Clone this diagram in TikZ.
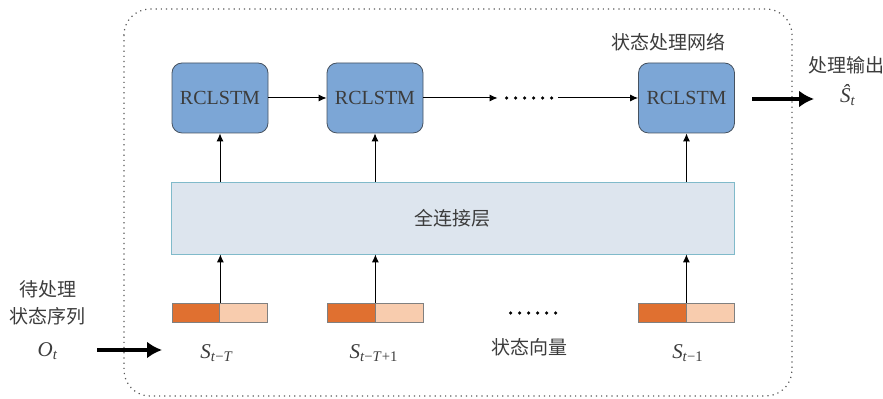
\documentclass[tikz,border=0pt]{standalone}
\usepackage{fontspec}
\setmainfont{Liberation Serif}
\newfontfamily\cjk{Noto Sans CJK SC}
\usetikzlibrary{arrows.meta}
\definecolor{cellblue}{RGB}{124,166,214}
\definecolor{cellline}{RGB}{70,82,96}
\definecolor{fcfill}{RGB}{221,229,238}
\definecolor{fcline}{RGB}{128,186,202}
\definecolor{darkpart}{RGB}{224,112,48}
\definecolor{lightpart}{RGB}{248,204,174}
\definecolor{txt}{RGB}{60,60,60}

\begin{document}
\begin{tikzpicture}[x=0.5pt,y=-0.5pt,
		cell/.style={draw=cellline, fill=cellblue, rounded corners=5pt, minimum width=48pt, minimum height=35pt, inner sep=0pt, font=\fontsize{10}{12}\selectfont, text=txt},
		fclayer/.style={draw=fcline, fill=fcfill, minimum width=281.5pt, minimum height=36pt, inner sep=0pt},
		dark/.style={draw=gray, fill=darkpart, minimum width=24pt, minimum height=9.5pt, inner sep=0pt},
		light/.style={draw=gray, fill=lightpart, minimum width=24pt, minimum height=9.5pt, inner sep=0pt},
		dotrow/.style={minimum width=30pt, minimum height=2pt, inner sep=0pt},
		zh/.style={font=\cjk\fontsize{9.5}{11.5}\selectfont, text=txt, inner sep=0pt},
		sym/.style={font=\fontsize{10.5}{12}\selectfont, text=txt, inner sep=0pt},
		thin/.style={-{Latex[length=4pt,width=3.5pt]}, line width=0.5pt},
		thick/.style={-{Latex[length=7.5pt,width=8.5pt]}, line width=2pt}]
	\useasboundingbox (0,0) rectangle (883,399);
	% outer frame
	\draw [dotted, gray!70!black, line width=0.6pt, rounded corners=13pt] (124,9) rectangle (792,396);
	% RCLSTM cells
	\node[cell] (cell1) at (220,98) {RCLSTM};
	\node[cell] (cell2) at (375,98) {RCLSTM};
	\node[cell] (cell3) at (686.5,98) {RCLSTM};
	\node[dotrow] (hdots) at (528,98) {};
	% fully connected layer
	\node[fclayer] (fc) at (452.5,218) {};
	\node[zh] (fctext) at (fc) {全连接层};
	% state vectors
	\node[dark] (b1a) at (196,312.5) {};
	\node[light] (b1b) at (243.5,312.5) {};
	\node[dark] (b2a) at (351,312.5) {};
	\node[light] (b2b) at (399,312.5) {};
	\node[dark] (b3a) at (662,312.5) {};
	\node[light] (b3b) at (710,312.5) {};
	\node[dotrow] (vdots) at (532,313) {};
	% dots
	\foreach \d in {hdots,vdots}
		\foreach \i in {0,...,5}
			\fill [black] ([xshift=\i*4.5pt+4.5pt]\d.west) circle [radius=0.9pt];
	% connections
	\draw [thin] (cell1) -- (cell2);
	\draw [thin] (cell2) -- (hdots.west);
	\draw [thin] (hdots.east) -- (cell3);
	\foreach \c in {cell1,cell2,cell3}
		\draw [thin] (\c |- fc.north) -- (\c.south);
	\foreach \b in {b1a,b2a,b3a}
		\draw [thin] (\b.north east) -- (\b.north east |- fc.south);
	% input and output
	\coordinate (inA) at (97,350);
	\coordinate (inB) at (162,350);
	\coordinate (outA) at (752,99);
	\coordinate (outB) at (814,99);
	\draw [thick] (inA) -- (inB);
	\draw [thick] (outA) -- (outB);
	% labels
	\node[zh, align=center] (seq) at (48,303) {待处理\\[2pt]状态序列};
	\node[sym] (obs) at (48,351) {\textit{O}\textsubscript{\textit{t}}};
	\node[sym] (s1) at (217,353) {\textit{S}\textsubscript{\textit{t}−\textit{T}}};
	\node[sym] (s2) at (374,353) {\textit{S}\textsubscript{\textit{t}−\textit{T}+1}};
	\node[sym] (s3) at (688,353) {\textit{S}\textsubscript{\textit{t}−1}};
	\node[zh] (vec) at (529,347) {状态向量};
	\node[zh] (net) at (668,42) {状态处理网络};
	\node[zh] (outtext) at (846,65) {处理输出};
	\node[sym] (shat) at (848,95) {\textit{\^S}\textsubscript{\textit{t}}};
\end{tikzpicture}
\end{document}
